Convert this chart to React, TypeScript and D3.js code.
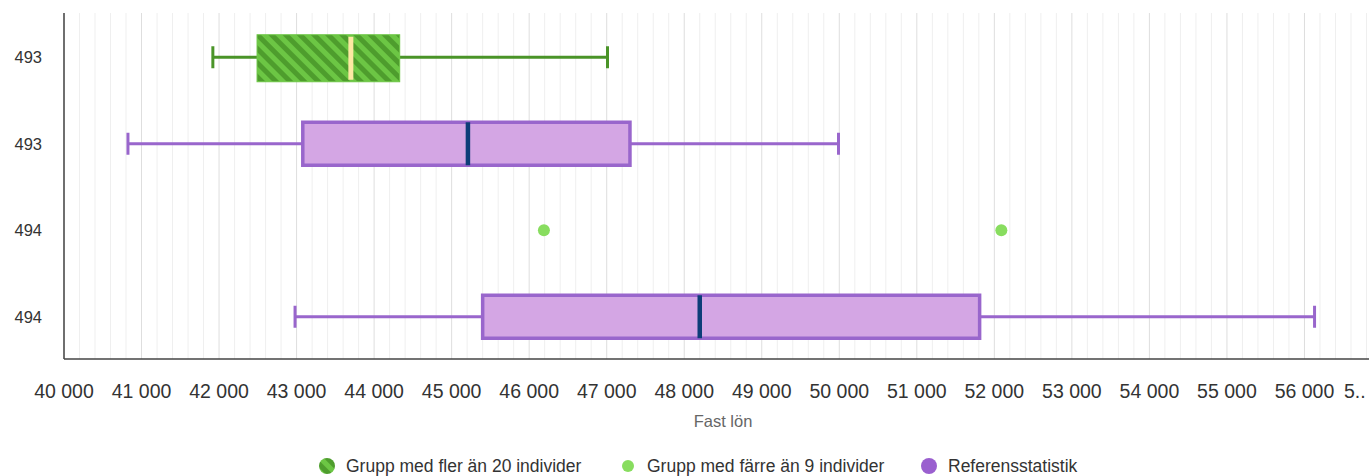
import React from "react";
import * as d3 from "d3";

const categories = ["493", "493", "494", "494"];
const boxKinds = ["group", "ref", "small", "ref"];
const whiskerLow = [41920, 40825, null, 42980];
const q1 = [42490, 43080, null, 45400];
const medians = [43700, 45210, null, 48200];
const q3 = [44330, 47300, null, 51810];
const whiskerHigh = [47010, 49990, null, 56130];
const smallPoints = [
  { row: 2, value: 46190 },
  { row: 2, value: 52090 },
];
const xTicks = d3.range(40000, 57001, 1000);
const minorTicks = d3.range(40000, 57001, 200);
const xTitle = "Fast lön";
const legendItems = [
  { label: "Grupp med fler än 20 individer", kind: "group" },
  { label: "Grupp med färre än 9 individer", kind: "small" },
  { label: "Referensstatistik", kind: "ref" },
];

const W = 1369;
const H = 476;
const left = 64;
const top = 13;
const bottom = 359;
const right = 1382;

const fmt = (v: number) => d3.format(",")(v).replace(/,/g, " ");

export default function App() {
  const x = d3.scaleLinear().domain([40000, 57000]).range([left, right]);
  const y = d3
    .scaleBand<number>()
    .domain(categories.map((_, i) => i))
    .range([top, bottom]);
  const cy = (i: number) => (y(i) as number) + y.bandwidth() / 2 + 1;

  const green = "#4a9428";
  const purple = "#9966cc";
  const purpleFill = "#d4a6e4";
  const font = "Liberation Sans, Arial, sans-serif";

  return (
    <svg
      width={W}
      height={H}
      style={{ position: "absolute", left: 0, top: 0, display: "block" }}
    >
      <defs>
        <pattern
          id="stripes"
          patternUnits="userSpaceOnUse"
          width={10}
          height={10}
          patternTransform="rotate(-45)"
        >
          <rect x={0} y={0} width={10} height={10} fill="#4e9d2d" />
          <rect x={0} y={0} width={5} height={10} fill="#6cc644" />
        </pattern>
      </defs>
      <rect x={0} y={0} width={W} height={H} fill="#fff" />

      {/* grid */}
      {minorTicks.map((t) => (
        <line
          key={"g" + t}
          x1={x(t)}
          x2={x(t)}
          y1={top}
          y2={bottom}
          stroke={t % 1000 === 0 ? "#dedede" : "#efefef"}
          strokeWidth={1}
        />
      ))}

      {/* boxes */}
      {categories.map((_, i) => {
        const kind = boxKinds[i];
        if (kind === "small") return null;
        const c = cy(i);
        const lo = whiskerLow[i] as number;
        const hi = whiskerHigh[i] as number;
        const a = q1[i] as number;
        const b = q3[i] as number;
        const m = medians[i] as number;
        const isGroup = kind === "group";
        const col = isGroup ? green : purple;
        const bh = isGroup ? 47 : 43;
        return (
          <g key={"b" + i}>
            <line x1={x(lo)} x2={x(a)} y1={c} y2={c} stroke={col} strokeWidth={3} />
            <line x1={x(b)} x2={x(hi)} y1={c} y2={c} stroke={col} strokeWidth={3} />
            <line x1={x(lo)} x2={x(lo)} y1={c - 11} y2={c + 11} stroke={col} strokeWidth={3} />
            <line x1={x(hi)} x2={x(hi)} y1={c - 11} y2={c + 11} stroke={col} strokeWidth={3} />
            {isGroup ? (
              <rect
                x={x(a)}
                y={c - bh / 2 + 1}
                width={x(b) - x(a)}
                height={bh}
                fill="url(#stripes)"
                stroke="#6cc644"
                strokeWidth={1}
              />
            ) : (
              <rect
                x={x(a)}
                y={c - bh / 2}
                width={x(b) - x(a)}
                height={bh}
                fill={purpleFill}
                stroke={purple}
                strokeWidth={3.5}
              />
            )}
            <line
              x1={x(m)}
              x2={x(m)}
              y1={c - bh / 2 + (isGroup ? 3 : 0)}
              y2={c + bh / 2 - (isGroup ? 1 : 0)}
              stroke={isGroup ? "#fde8a3" : "#0d3d78"}
              strokeWidth={isGroup ? 5 : 4.5}
            />
          </g>
        );
      })}

      {/* small-group points */}
      {smallPoints.map((p, k) => (
        <circle key={"p" + k} cx={x(p.value)} cy={cy(p.row)} r={6} fill="#88dd5f" />
      ))}

      {/* axes */}
      <line x1={left} x2={left} y1={top} y2={bottom} stroke="#444" strokeWidth={1.5} />
      <line x1={left} x2={W} y1={bottom} y2={bottom} stroke="#444" strokeWidth={1.5} />

      {categories.map((c, i) => (
        <text
          key={"y" + i}
          x={42}
          y={cy(i)}
          dy="0.35em"
          textAnchor="end"
          fontFamily={font}
          fontSize={16.5}
          fill="#333"
        >
          {c}
        </text>
      ))}

      {xTicks.map((t) => {
        const last = t === 57000;
        return (
          <text
            key={"t" + t}
            x={last ? 1344 : x(t)}
            y={398}
            textAnchor={last ? "start" : "middle"}
            fontFamily={font}
            fontSize={19.5}
            fill="#333"
          >
            {last ? "5.." : fmt(t)}
          </text>
        );
      })}

      <text
        x={(left + right) / 2}
        y={427}
        textAnchor="middle"
        fontFamily={font}
        fontSize={16.5}
        fill="#666"
      >
        {xTitle}
      </text>

      {/* legend */}
      {legendItems.map((it, k) => {
        const xs = [327, 628, 929];
        const cx = xs[k];
        const cyL = 466;
        return (
          <g key={"l" + k}>
            {it.kind === "group" && (
              <circle cx={cx} cy={cyL} r={8} fill="url(#stripes)" />
            )}
            {it.kind === "small" && <circle cx={cx} cy={cyL} r={6} fill="#88dd5f" />}
            {it.kind === "ref" && <circle cx={cx} cy={cyL} r={8} fill="#9a5fcf" />}
            <text
              x={cx + 19}
              y={cyL}
              dy="0.35em"
              fontFamily={font}
              fontSize={17.5}
              fill="#333"
            >
              {it.label}
            </text>
          </g>
        );
      })}
    </svg>
  );
}
